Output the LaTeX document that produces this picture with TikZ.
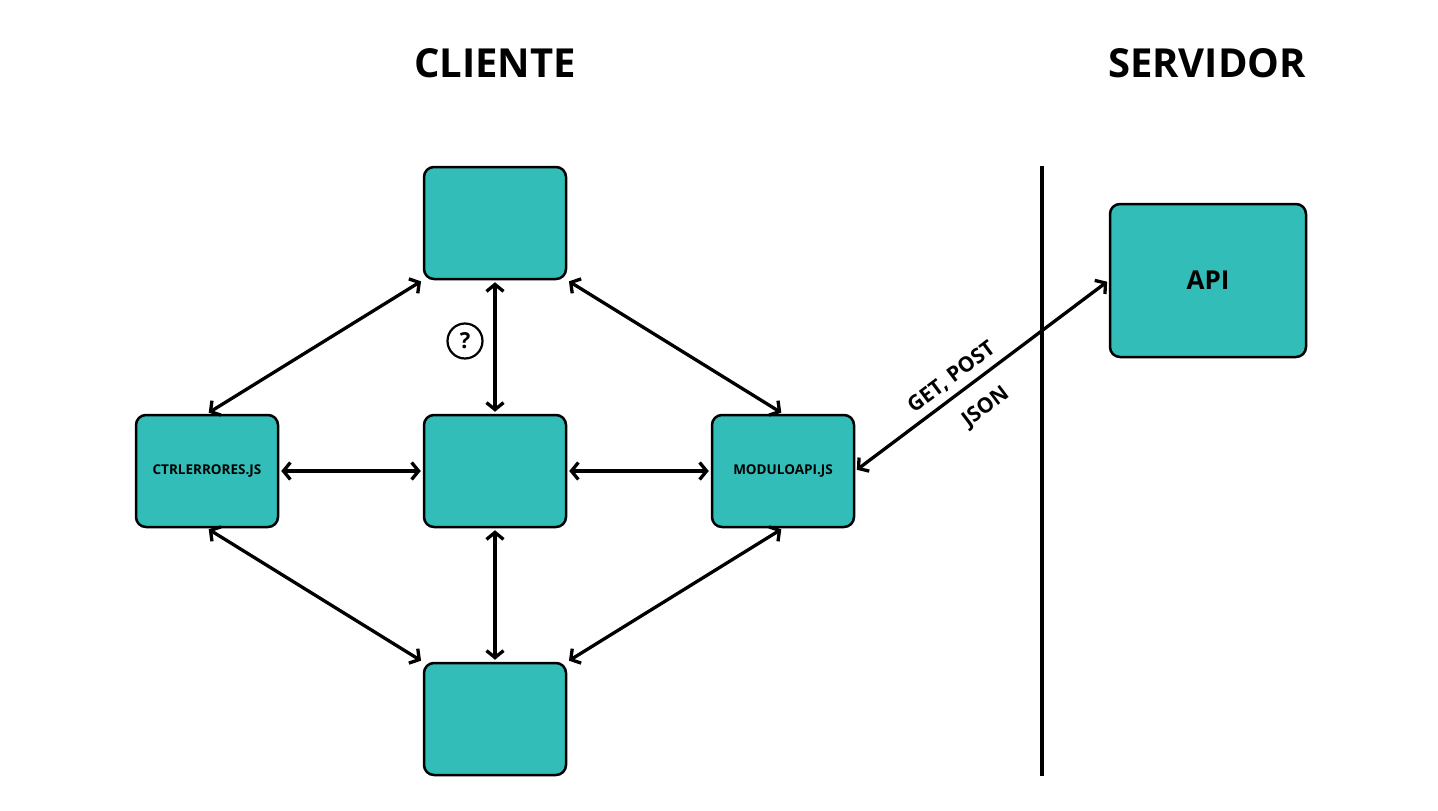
\documentclass[tikz,border=0pt]{standalone}
\usepackage{fontspec}
\setmainfont{Open Sans}
\usetikzlibrary{arrows.meta}
\definecolor{myteal}{HTML}{33BDB9}

\begin{document}
\begin{tikzpicture}
  [x=1pt,y=-1pt,
   box/.style={draw=black,line width=2.5pt,fill=myteal,rounded corners=10pt,
     minimum width=142pt,minimum height=112pt,inner sep=0pt,
     font=\bfseries\fontsize{13.5}{16}\selectfont},
   big/.style={box,minimum width=196pt,minimum height=153pt,
     font=\bfseries\fontsize{26}{30}\selectfont},
   title/.style={font=\bfseries\fontsize{40}{48}\selectfont},
   twoway/.style={{Straight Barb[length=7pt,width=17pt]}-{Straight Barb[length=7pt,width=17pt]},
     line width=3.3pt,shorten >=2pt,shorten <=2pt},
   qmark/.style={circle,draw=black,line width=2.2pt,minimum size=35pt,inner sep=0pt,
     font=\bfseries\fontsize{22}{26}\selectfont},
   flowtext/.style={font=\bfseries\fontsize{21}{25}\selectfont,sloped},
  ]
  \useasboundingbox (0,0) rectangle (1438,811);

  \node[title] (cliente) at (495,63) {CLIENTE};
  \node[title] (servidor) at (1207,63) {SERVIDOR};

  \node[box] (top) at (495,223) {};
  \node[box] (mid) at (495,471) {};
  \node[box] (bot) at (495,719) {};
  \node[box] (ctrl) at (207,471) {CTRLERRORES.JS};
  \node[box] (modulo) at (783,471) {MODULOAPI.JS};
  \node[big] (api) at (1208,280.5) {API};

  \coordinate (lineTop) at (1042,166);
  \coordinate (lineBot) at (1042,776);
  \draw[line width=3.3pt] (lineTop) -- (lineBot);

  \node[qmark] (q) at (465,341) {?};

  \path[twoway] (top.south west) edge (ctrl.north)
        (top.south east) edge (modulo.north)
        (top) edge (mid)
        (ctrl) edge (mid)
        (mid) edge (modulo)
        (ctrl.south) edge (bot.north west)
        (mid) edge (bot)
        (modulo.south) edge (bot.north east)
        (modulo.east) edge node[flowtext,pos=0.42,above=3pt]{GET, POST}
                           node[flowtext,pos=0.45,below=13pt]{JSON} (api.west);

\end{tikzpicture}
\end{document}
